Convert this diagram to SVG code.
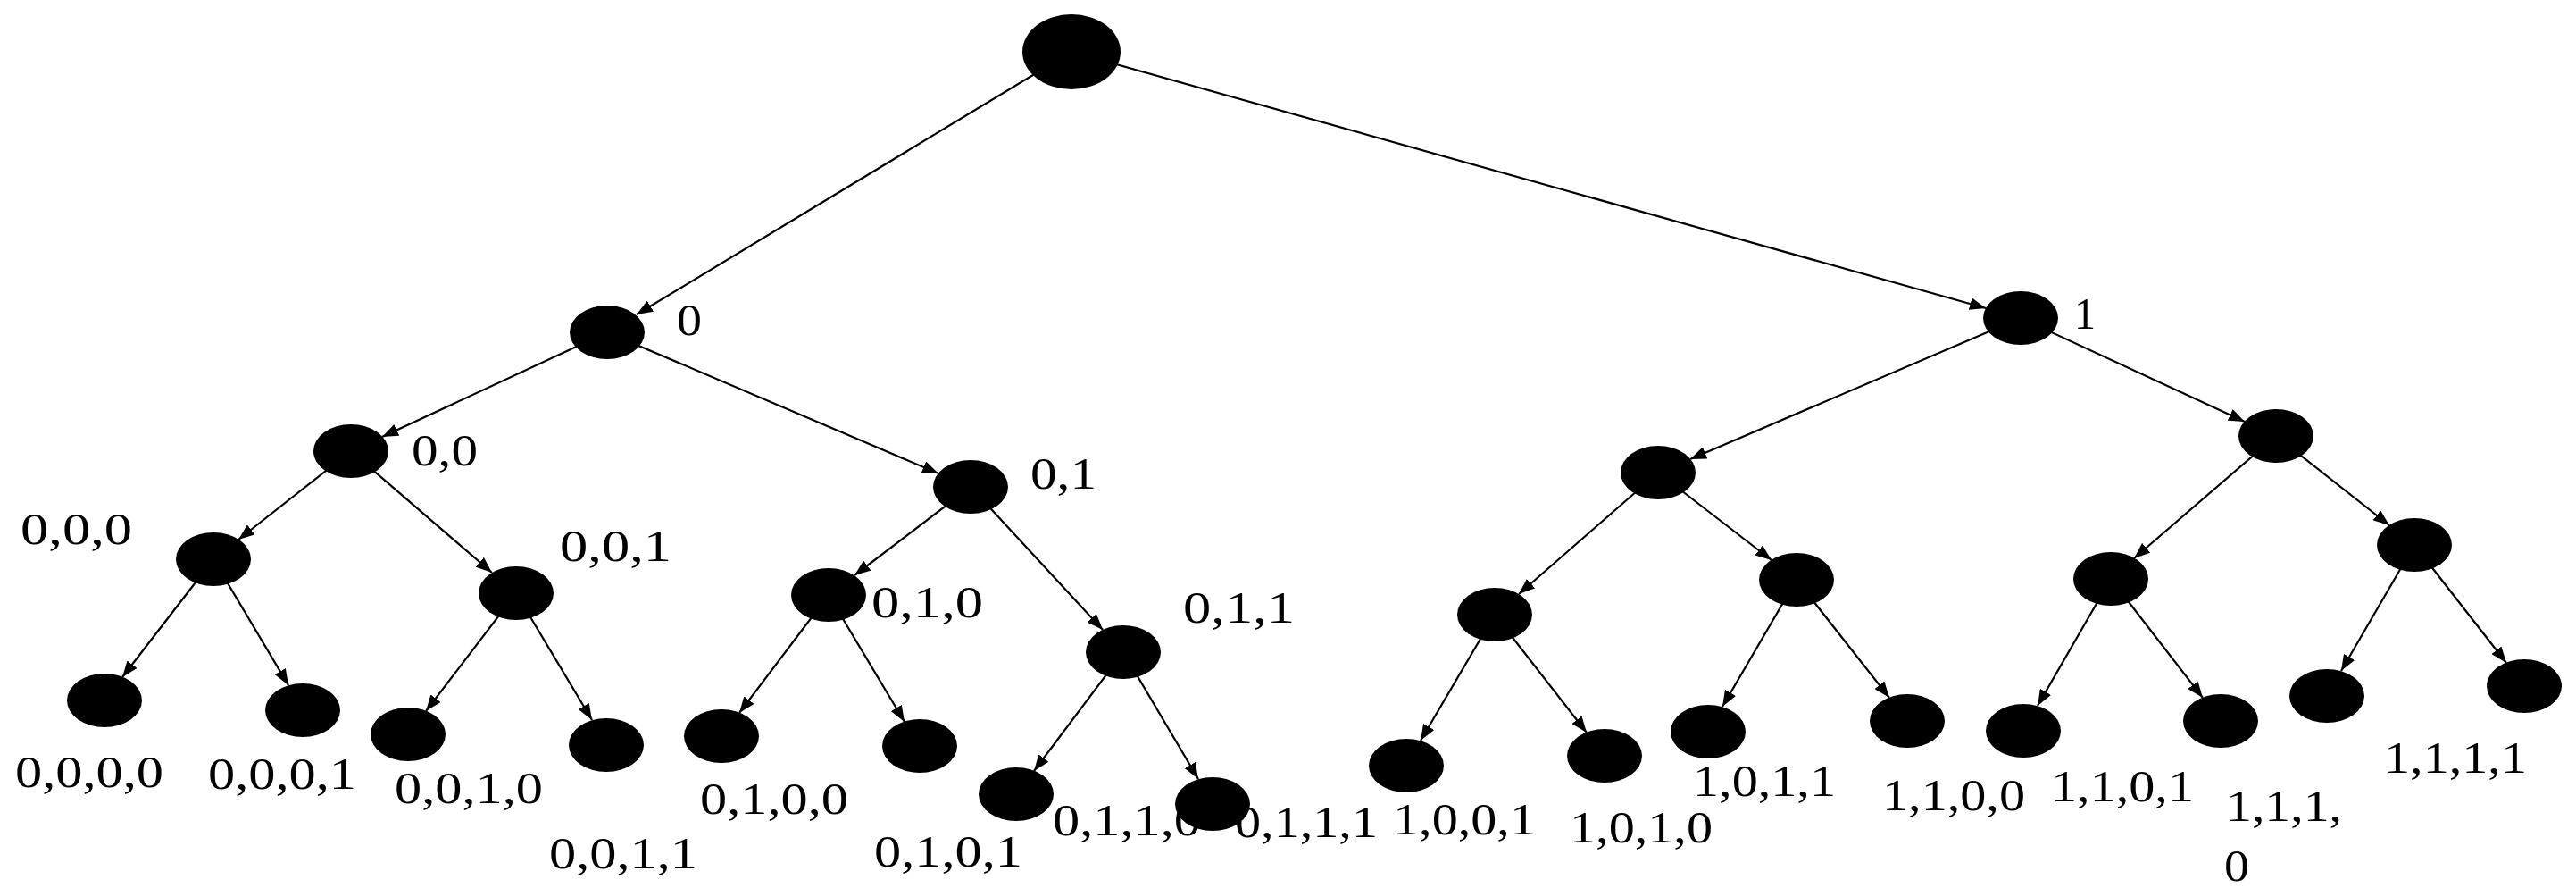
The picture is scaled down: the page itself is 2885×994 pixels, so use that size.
<svg xmlns="http://www.w3.org/2000/svg" width="2885" height="994" viewBox="0 0 2885 994">
<style>
.e{stroke:#000;stroke-width:2.2;fill:none;marker-end:url(#a)}
.n{fill:#000}
text{font-family:"Liberation Serif","Times New Roman",serif;font-size:50px;fill:#000}
</style>
<defs><marker id="a" markerUnits="userSpaceOnUse" markerWidth="20" markerHeight="14" refX="18" refY="7" orient="auto"><path d="M0,0 L18,7 L0,14 Z" fill="#000"/></marker></defs>
<rect width="2885" height="994" fill="#fff"/>
<g id="connectors">
<line class="e" x1="1200" y1="58" x2="713" y2="352"/>
<line class="e" x1="1200" y1="58" x2="2224" y2="345"/>
<line class="e" x1="680" y1="372" x2="428" y2="489"/>
<line class="e" x1="680" y1="372" x2="1051" y2="530"/>
<line class="e" x1="393" y1="505" x2="267" y2="604"/>
<line class="e" x1="393" y1="505" x2="551" y2="641"/>
<line class="e" x1="1087" y1="545" x2="957" y2="644"/>
<line class="e" x1="1087" y1="545" x2="1235" y2="705"/>
<line class="e" x1="239" y1="626" x2="137" y2="758"/>
<line class="e" x1="239" y1="626" x2="323" y2="767"/>
<line class="e" x1="578" y1="664" x2="477" y2="796"/>
<line class="e" x1="578" y1="664" x2="663" y2="806"/>
<line class="e" x1="928" y1="666" x2="828" y2="798"/>
<line class="e" x1="928" y1="666" x2="1013" y2="808"/>
<line class="e" x1="1258" y1="730" x2="1158" y2="863"/>
<line class="e" x1="1258" y1="730" x2="1342" y2="872"/>
<line class="e" x1="2263" y1="356" x2="1893" y2="514"/>
<line class="e" x1="2263" y1="356" x2="2514" y2="472"/>
<line class="e" x1="1857" y1="529" x2="1701" y2="665"/>
<line class="e" x1="1857" y1="529" x2="1984" y2="627"/>
<line class="e" x1="2549" y1="488" x2="2390" y2="625"/>
<line class="e" x1="2549" y1="488" x2="2676" y2="588"/>
<line class="e" x1="1674" y1="688" x2="1591" y2="829"/>
<line class="e" x1="1674" y1="688" x2="1777" y2="820"/>
<line class="e" x1="2012" y1="649" x2="1929" y2="791"/>
<line class="e" x1="2012" y1="649" x2="2116" y2="781"/>
<line class="e" x1="2364" y1="648" x2="2282" y2="790"/>
<line class="e" x1="2364" y1="648" x2="2467" y2="781"/>
<line class="e" x1="2704" y1="610" x2="2622" y2="751"/>
<line class="e" x1="2704" y1="610" x2="2807" y2="742"/>
</g>
<g id="root"><ellipse class="n" cx="1200" cy="58" rx="55" ry="42"/></g>
<g id="n0"><ellipse class="n" cx="680" cy="372" rx="42" ry="30"/><text x="758" y="375" textLength="28" lengthAdjust="spacingAndGlyphs">0</text></g>
<g id="n00"><ellipse class="n" cx="393" cy="505" rx="42" ry="30"/><text x="461" y="521" textLength="74" lengthAdjust="spacingAndGlyphs">0,0</text></g>
<g id="n01"><ellipse class="n" cx="1087" cy="545" rx="42" ry="30"/><text x="1154" y="547" textLength="74" lengthAdjust="spacingAndGlyphs">0,1</text></g>
<g id="n000"><ellipse class="n" cx="239" cy="626" rx="42" ry="30"/><text x="23" y="609" textLength="125" lengthAdjust="spacingAndGlyphs">0,0,0</text></g>
<g id="n001"><ellipse class="n" cx="578" cy="664" rx="42" ry="30"/><text x="627" y="628" textLength="125" lengthAdjust="spacingAndGlyphs">0,0,1</text></g>
<g id="n010"><ellipse class="n" cx="928" cy="666" rx="42" ry="30"/><text x="976" y="691" textLength="125" lengthAdjust="spacingAndGlyphs">0,1,0</text></g>
<g id="n011"><ellipse class="n" cx="1258" cy="730" rx="42" ry="30"/><text x="1325" y="697" textLength="125" lengthAdjust="spacingAndGlyphs">0,1,1</text></g>
<g id="n0000"><ellipse class="n" cx="117" cy="784" rx="42" ry="30"/><text x="17" y="881" textLength="166" lengthAdjust="spacingAndGlyphs">0,0,0,0</text></g>
<g id="n0001"><ellipse class="n" cx="339" cy="795" rx="42" ry="30"/><text x="233" y="883" textLength="166" lengthAdjust="spacingAndGlyphs">0,0,0,1</text></g>
<g id="n0010"><ellipse class="n" cx="457" cy="822" rx="42" ry="30"/><text x="442" y="899" textLength="166" lengthAdjust="spacingAndGlyphs">0,0,1,0</text></g>
<g id="n0011"><ellipse class="n" cx="679" cy="834" rx="42" ry="30"/><text x="615" y="972" textLength="166" lengthAdjust="spacingAndGlyphs">0,0,1,1</text></g>
<g id="n0100"><ellipse class="n" cx="808" cy="824" rx="42" ry="30"/><text x="784" y="911" textLength="166" lengthAdjust="spacingAndGlyphs">0,1,0,0</text></g>
<g id="n0101"><ellipse class="n" cx="1030" cy="835" rx="42" ry="30"/><text x="979" y="970" textLength="166" lengthAdjust="spacingAndGlyphs">0,1,0,1</text></g>
<g id="n0110"><ellipse class="n" cx="1138" cy="889" rx="42" ry="30"/><text x="1179" y="935" textLength="166" lengthAdjust="spacingAndGlyphs">0,1,1,0</text></g>
<g id="n0111"><ellipse class="n" cx="1358" cy="900" rx="42" ry="30"/><text x="1383" y="937" textLength="160" lengthAdjust="spacingAndGlyphs">0,1,1,1</text></g>
<g id="n1"><ellipse class="n" cx="2263" cy="356" rx="42" ry="30"/><text x="2323" y="368" textLength="24" lengthAdjust="spacingAndGlyphs">1</text></g>
<g id="n10"><ellipse class="n" cx="1857" cy="529" rx="42" ry="30"/></g>
<g id="n11"><ellipse class="n" cx="2549" cy="488" rx="42" ry="30"/></g>
<g id="n100"><ellipse class="n" cx="1674" cy="688" rx="42" ry="30"/></g>
<g id="n101"><ellipse class="n" cx="2012" cy="649" rx="42" ry="30"/></g>
<g id="n110"><ellipse class="n" cx="2364" cy="648" rx="42" ry="30"/></g>
<g id="n111"><ellipse class="n" cx="2704" cy="610" rx="42" ry="30"/></g>
<g id="n1000"><ellipse class="n" cx="1575" cy="857" rx="42" ry="30"/><text x="1560" y="934" textLength="160" lengthAdjust="spacingAndGlyphs">1,0,0,1</text></g>
<g id="n1001"><ellipse class="n" cx="1797" cy="846" rx="42" ry="30"/><text x="1758" y="943" textLength="160" lengthAdjust="spacingAndGlyphs">1,0,1,0</text></g>
<g id="n1010"><ellipse class="n" cx="1913" cy="819" rx="42" ry="30"/><text x="1896" y="891" textLength="160" lengthAdjust="spacingAndGlyphs">1,0,1,1</text></g>
<g id="n1011"><ellipse class="n" cx="2136" cy="807" rx="42" ry="30"/><text x="2108" y="907" textLength="160" lengthAdjust="spacingAndGlyphs">1,1,0,0</text></g>
<g id="n1100"><ellipse class="n" cx="2266" cy="818" rx="42" ry="30"/><text x="2297" y="897" textLength="160" lengthAdjust="spacingAndGlyphs">1,1,0,1</text></g>
<g id="n1101"><ellipse class="n" cx="2487" cy="807" rx="42" ry="30"/><text x="2493" y="919" textLength="130" lengthAdjust="spacingAndGlyphs">1,1,1,</text><text x="2491" y="986" textLength="28" lengthAdjust="spacingAndGlyphs">0</text></g>
<g id="n1110"><ellipse class="n" cx="2606" cy="779" rx="42" ry="30"/><text x="2670" y="865" textLength="160" lengthAdjust="spacingAndGlyphs">1,1,1,1</text></g>
<g id="n1111"><ellipse class="n" cx="2827" cy="768" rx="42" ry="30"/></g>
</svg>
